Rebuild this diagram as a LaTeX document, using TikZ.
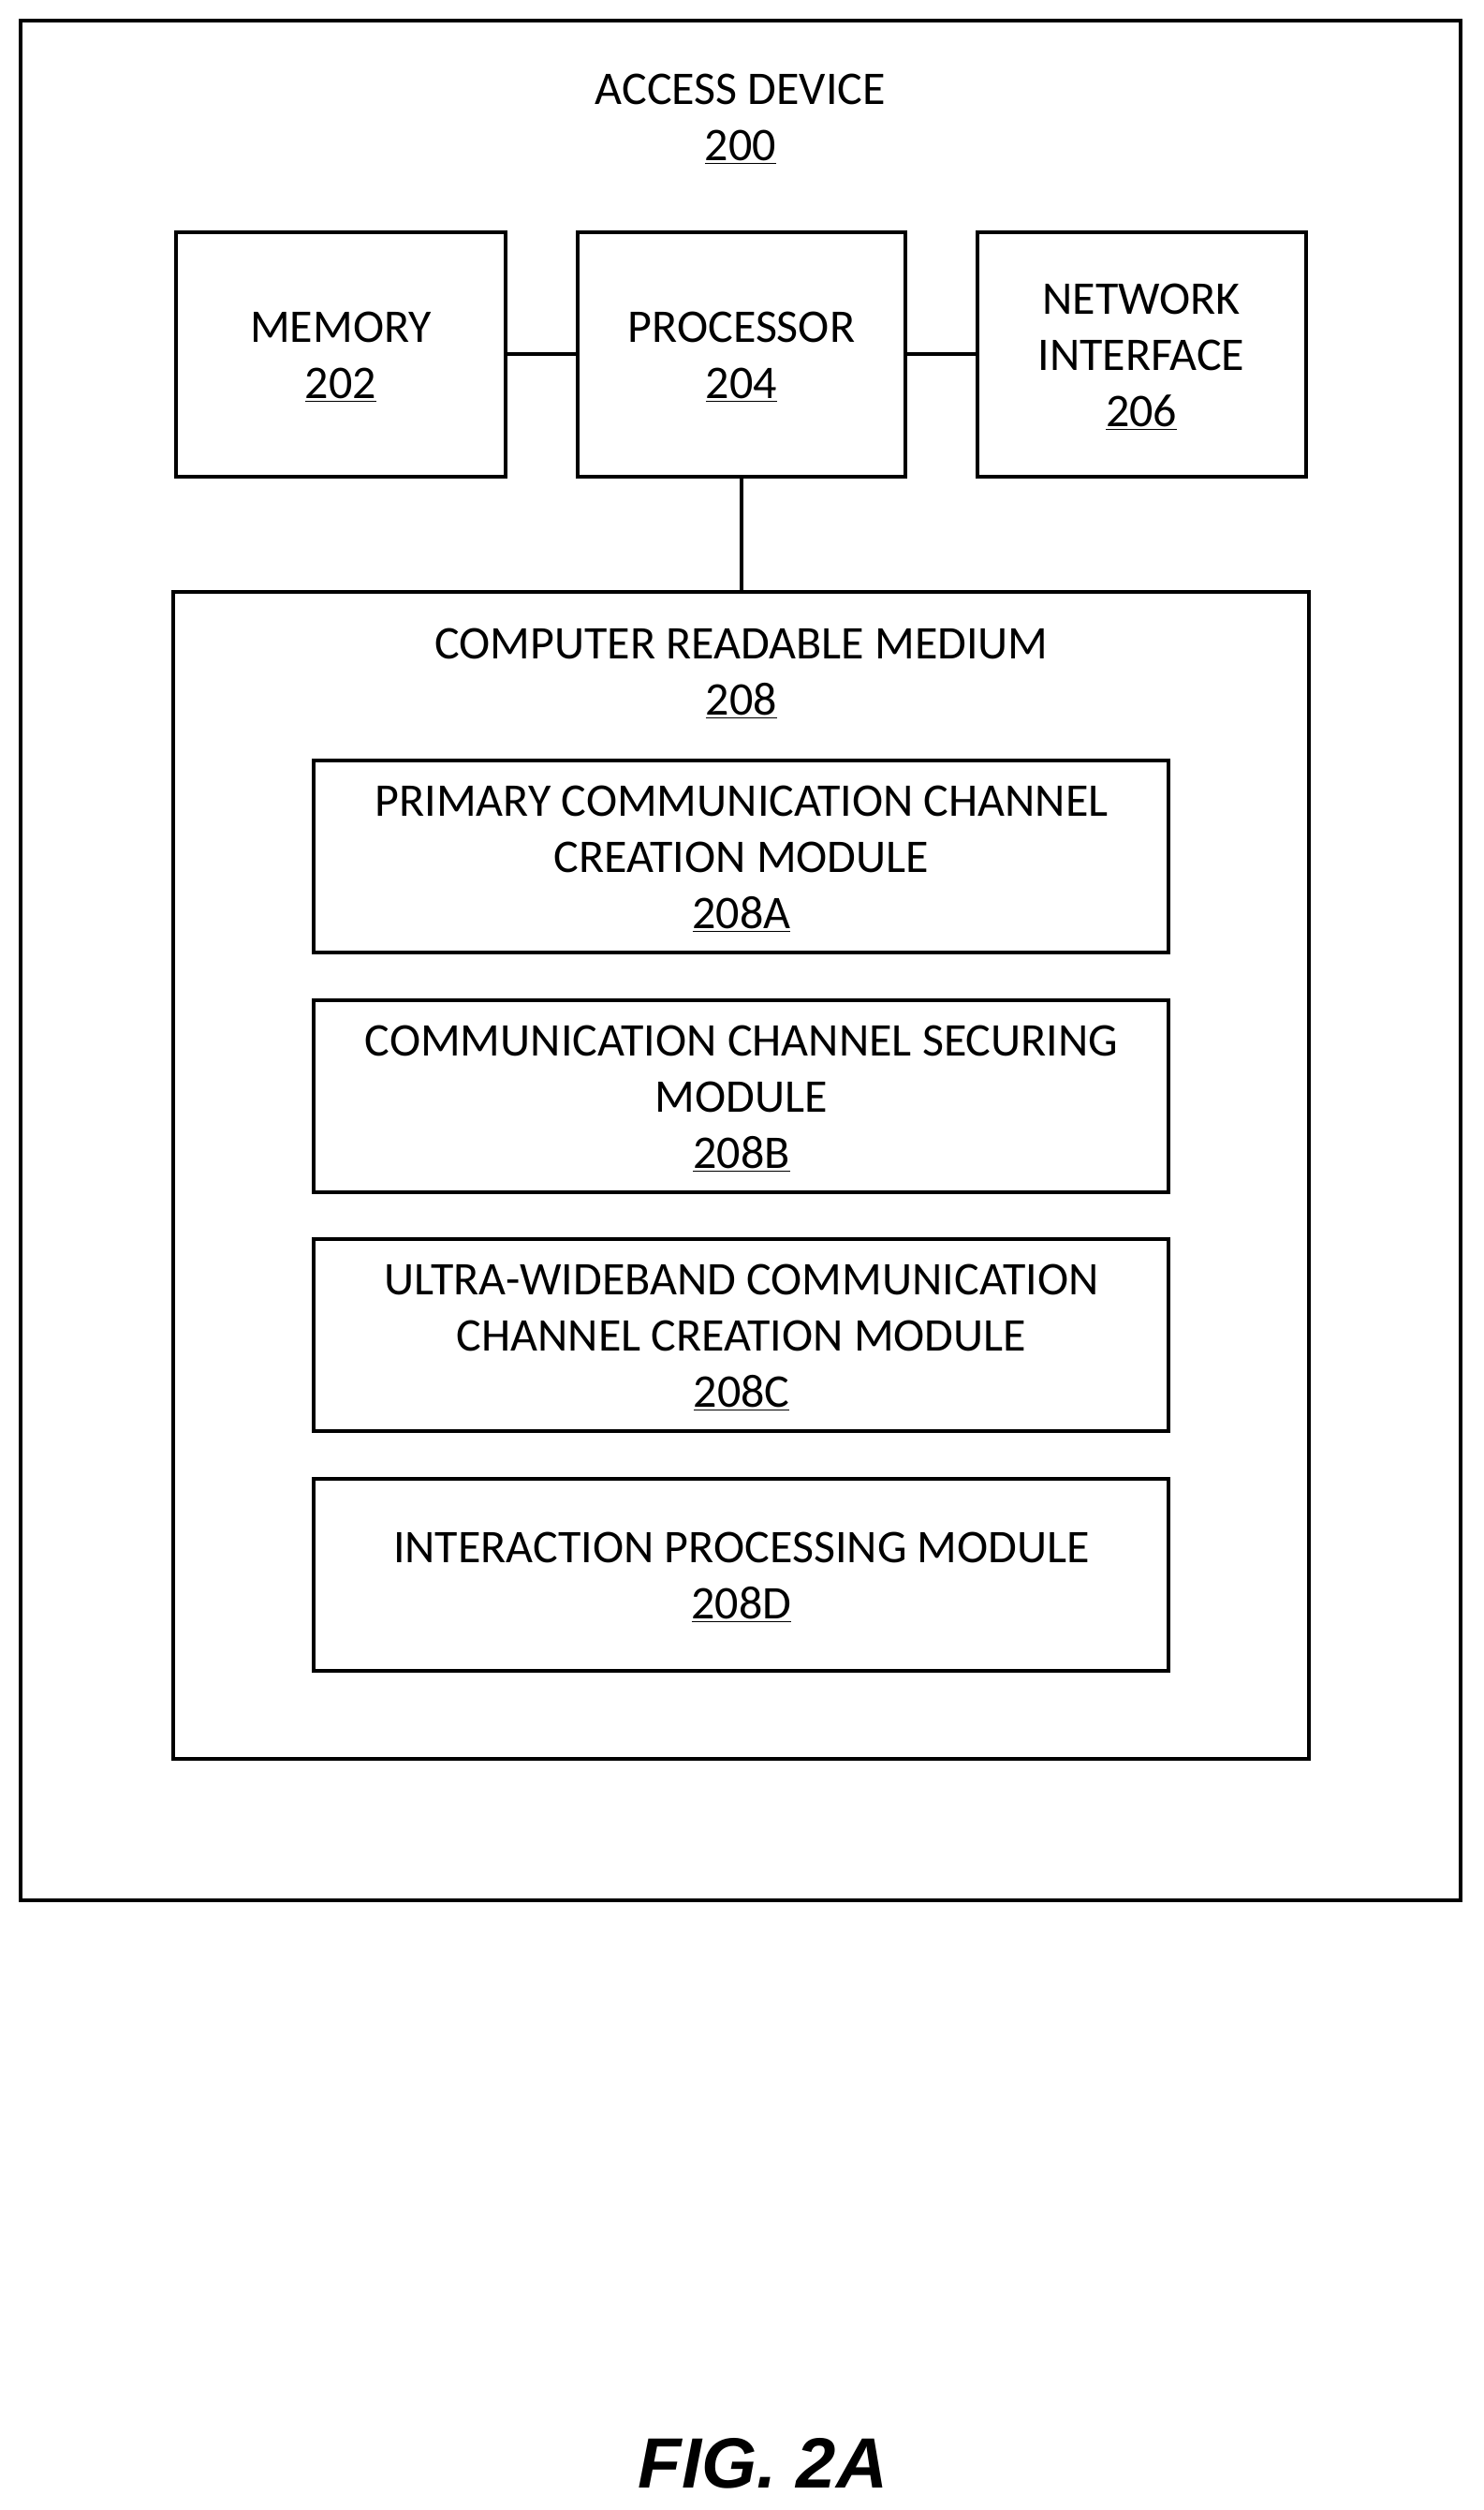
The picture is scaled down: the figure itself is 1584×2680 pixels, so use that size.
\documentclass[tikz,border=0pt]{standalone}
\usepackage{fontspec}
\setmainfont{Carlito}
\newfontfamily\figfont{Liberation Sans}
\begin{document}
\begin{tikzpicture}[x=0.5pt,y=-0.5pt,
  box/.style={draw,line width=1.6pt},
  lbl/.style={align=center,font=\fontsize{25}{30}\selectfont,inner sep=0pt},
  wire/.style={line width=1.6pt}]
\useasboundingbox (0,0) rectangle (1584,2680);
\draw[box] (22,22) rectangle (1560,2029);
\node[lbl] (t200) at (791,127) {ACCESS DEVICE\\\underline{200}};
\draw[box] (188,248) rectangle (540,509);
\node[lbl] (mem) at (364,381) {MEMORY\\\underline{202}};
\draw[box] (617,248) rectangle (967,509);
\node[lbl] (proc) at (792,381) {PROCESSOR\\\underline{204}};
\draw[box] (1044,248) rectangle (1395,509);
\node[lbl] (net) at (1219,381) {NETWORK\\INTERFACE\\\underline{206}};
\coordinate (memR) at (540,378); \coordinate (procL) at (617,378);
\coordinate (procR) at (967,378); \coordinate (netL) at (1044,378);
\coordinate (procB) at (792,509); \coordinate (crmT) at (792,632);
\draw[wire] (memR) -- (procL);
\draw[wire] (procR) -- (netL);
\draw[wire] (procB) -- (crmT);
\draw[box] (185,632) rectangle (1398,1878);
\node[lbl] (crm) at (792,719) {COMPUTER READABLE MEDIUM\\\underline{208}};
\draw[box] (335,812) rectangle (1248,1017);
\node[lbl] (a) at (792,917) {PRIMARY COMMUNICATION CHANNEL\\CREATION MODULE\\\underline{208A}};
\draw[box] (335,1068) rectangle (1248,1273);
\node[lbl] (b) at (792,1173) {COMMUNICATION CHANNEL SECURING\\MODULE\\\underline{208B}};
\draw[box] (335,1323) rectangle (1248,1528);
\node[lbl] (c) at (792,1428) {ULTRA-WIDEBAND COMMUNICATION\\CHANNEL CREATION MODULE\\\underline{208C}};
\draw[box] (335,1579) rectangle (1248,1784);
\node[lbl] (d) at (792,1684) {INTERACTION PROCESSING MODULE\\\underline{208D}};
\node[inner sep=0pt,font=\figfont\bfseries\itshape\fontsize{38}{40}\selectfont] (fig) at (815,2630) {FIG. 2A};
\end{tikzpicture}
\end{document}
